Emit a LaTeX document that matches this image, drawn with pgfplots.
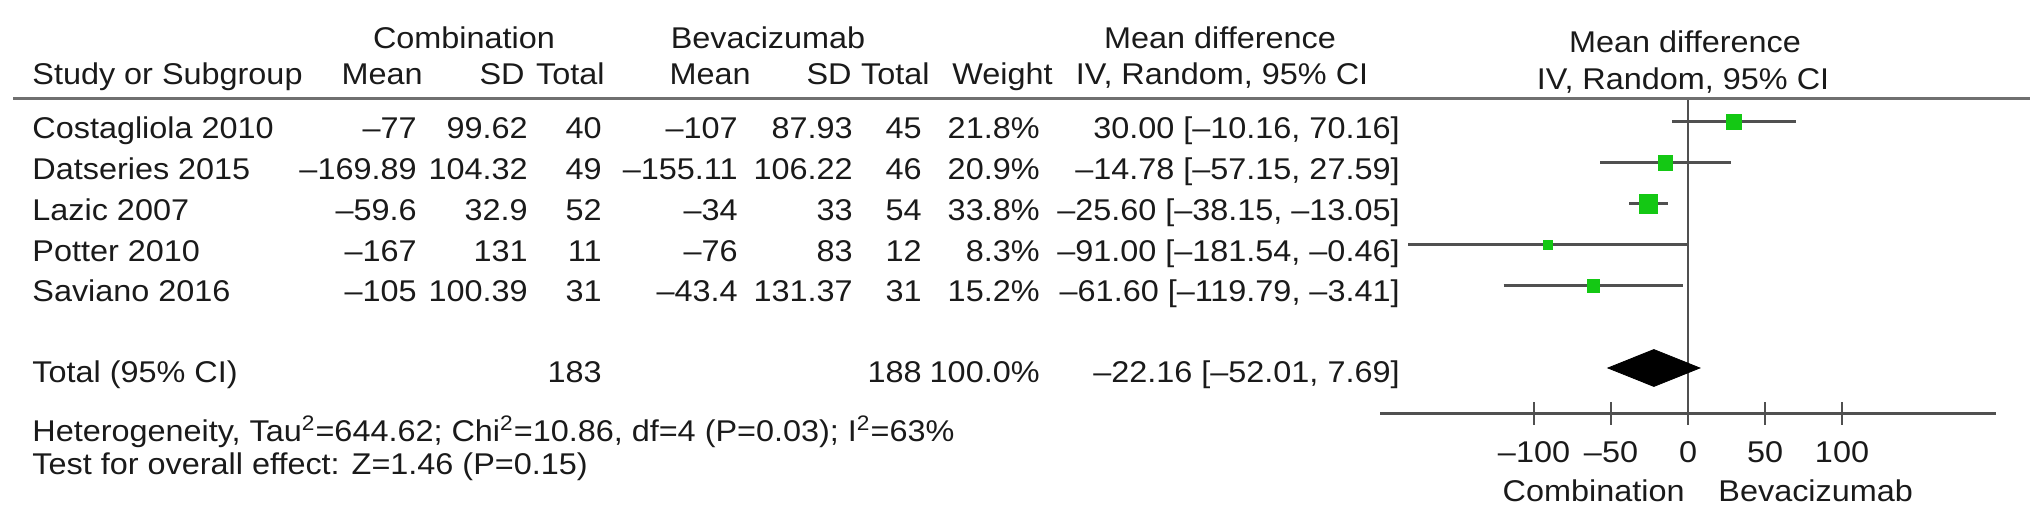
\documentclass[border=0pt]{standalone}
\usepackage{fontspec}
\setmainfont{Liberation Sans}[FakeStretch=1.08]
\usepackage{pgfplots}
\pgfplotsset{compat=1.18}
\definecolor{txt}{HTML}{1A1A1A}
\definecolor{cil}{HTML}{505050}
\definecolor{mk}{HTML}{14C814}
\definecolor{hl}{HTML}{707070}
\newcommand{\fs}{\fontsize{15}{18}\selectfont}
\begin{document}
\fs
\begin{tikzpicture}[font=\fs, text=txt]
\path[use as bounding box] (0pt,0pt) rectangle (1016pt,-260pt);
\begin{axis}[
  at={(844pt,-127.75pt)}, anchor=center,
  scale only axis, width=308pt, height=157.5pt,
  xmin=-200, xmax=200, ymin=-7.098, ymax=0.585,
  axis x line=bottom, axis y line=none, ytick=\empty,
  axis line style={-, line width=1.5pt, draw=cil},
  xtick={-100,-50,0,50,100},
  xticklabels={–100,–50,0,50,100},
  major tick length=11.5pt, tick align=center,
  xtick style={line width=1pt, draw=cil},
  xticklabel style={font=\fs, text=txt, anchor=base, yshift=-19pt},
  clip=false,
]
% zero line
\addplot[line width=0.75pt, cil] coordinates {(0,0.585) (0,-7.098)};
% confidence intervals
\addplot[line width=1.5pt, cil] coordinates {(-10.16,0) (70.16,0)};
\addplot[line width=1.5pt, cil] coordinates {(-57.15,-1) (27.59,-1)};
\addplot[line width=1.5pt, cil] coordinates {(-38.15,-2) (-13.05,-2)};
\addplot[line width=1.5pt, cil] coordinates {(-181.54,-3) (-0.46,-3)};
\addplot[line width=1.5pt, cil] coordinates {(-119.79,-4) (-3.41,-4)};
% point estimates (size ~ weight)
\addplot[only marks, mark=square*, color=mk, mark options={fill=mk, draw=mk, line width=0pt}, mark size=3.62pt] coordinates {(30.00,0)};
\addplot[only marks, mark=square*, color=mk, mark options={fill=mk, draw=mk, line width=0pt}, mark size=3.54pt] coordinates {(-14.78,-1)};
\addplot[only marks, mark=square*, color=mk, mark options={fill=mk, draw=mk, line width=0pt}, mark size=4.51pt] coordinates {(-25.60,-2)};
\addplot[only marks, mark=square*, color=mk, mark options={fill=mk, draw=mk, line width=0pt}, mark size=2.23pt] coordinates {(-91.00,-3)};
\addplot[only marks, mark=square*, color=mk, mark options={fill=mk, draw=mk, line width=0pt}, mark size=3.02pt] coordinates {(-61.60,-4)};
% pooled diamond
\addplot[fill=black, draw=black] coordinates {(-52.01,-6) (-22.16,-5.55) (7.69,-6) (-22.16,-6.45)} -- cycle;
\end{axis}

\begin{scope}[x=0.5pt, y=-0.5pt,
  L/.style={anchor=base west, inner sep=0pt},
  R/.style={anchor=base east, inner sep=0pt},
  C/.style={anchor=base, inner sep=0pt}]
% header rule
\draw[hl, line width=1.5pt] (13,98) -- (2030,98);
% header row 1
\node[C] at (464,48) {Combination};
\node[C] at (768,48) {Bevacizumab};
\node[C] at (1220,48) {Mean difference};
\node[C] at (1685,52) {Mean difference};
% header row 2
\node[L] at (32,84) {Study or Subgroup};
\node[R] at (423,84) {Mean};
\node[R] at (525,84) {SD};
\node[R] at (605,84) {Total};
\node[R] at (751,84) {Mean};
\node[R] at (852,84) {SD};
\node[R] at (930,84) {Total};
\node[R] at (1053,84) {Weight};
\node[C] at (1222,84) {IV, Random, 95\% CI};
\node[C] at (1683,89) {IV, Random, 95\% CI};
% rows
\node[L] at (32,138) {Costagliola 2010};
\node[R] at (417,138) {–77};
\node[R] at (528,138) {99.62};
\node[R] at (602,138) {40};
\node[R] at (738,138) {–107};
\node[R] at (853,138) {87.93};
\node[R] at (922,138) {45};
\node[R] at (1040,138) {21.8\%};
\node[R] at (1400,138) {30.00 [–10.16, 70.16]};

\node[L] at (32,179) {Datseries 2015};
\node[R] at (417,179) {–169.89};
\node[R] at (528,179) {104.32};
\node[R] at (602,179) {49};
\node[R] at (738,179) {–155.11};
\node[R] at (853,179) {106.22};
\node[R] at (922,179) {46};
\node[R] at (1040,179) {20.9\%};
\node[R] at (1400,179) {–14.78 [–57.15, 27.59]};

\node[L] at (32,220) {Lazic 2007};
\node[R] at (417,220) {–59.6};
\node[R] at (528,220) {32.9};
\node[R] at (602,220) {52};
\node[R] at (738,220) {–34};
\node[R] at (853,220) {33};
\node[R] at (922,220) {54};
\node[R] at (1040,220) {33.8\%};
\node[R] at (1400,220) {–25.60 [–38.15, –13.05]};

\node[L] at (32,261) {Potter 2010};
\node[R] at (417,261) {–167};
\node[R] at (528,261) {131};
\node[R] at (602,261) {11};
\node[R] at (738,261) {–76};
\node[R] at (853,261) {83};
\node[R] at (922,261) {12};
\node[R] at (1040,261) {8.3\%};
\node[R] at (1400,261) {–91.00 [–181.54, –0.46]};

\node[L] at (32,301) {Saviano 2016};
\node[R] at (417,301) {–105};
\node[R] at (528,301) {100.39};
\node[R] at (602,301) {31};
\node[R] at (738,301) {–43.4};
\node[R] at (853,301) {131.37};
\node[R] at (922,301) {31};
\node[R] at (1040,301) {15.2\%};
\node[R] at (1400,301) {–61.60 [–119.79, –3.41]};

\node[L] at (32,382) {Total (95\% CI)};
\node[R] at (602,382) {183};
\node[R] at (922,382) {188};
\node[R] at (1040,382) {100.0\%};
\node[R] at (1400,382) {–22.16 [–52.01, 7.69]};

\node[L] at (32,441) {Heterogeneity, Tau\textsuperscript{2}=644.62; Chi\textsuperscript{2}=10.86, df=4 (P=0.03); I\textsuperscript{2}=63\%};
\node[L] at (32,474) {Test for overall effect: Z=1.46 (P=0.15)};
% favours labels
\node[R] at (1685,501) {Combination};
\node[L] at (1718,501) {Bevacizumab};
\end{scope}
\end{tikzpicture}
\end{document}
